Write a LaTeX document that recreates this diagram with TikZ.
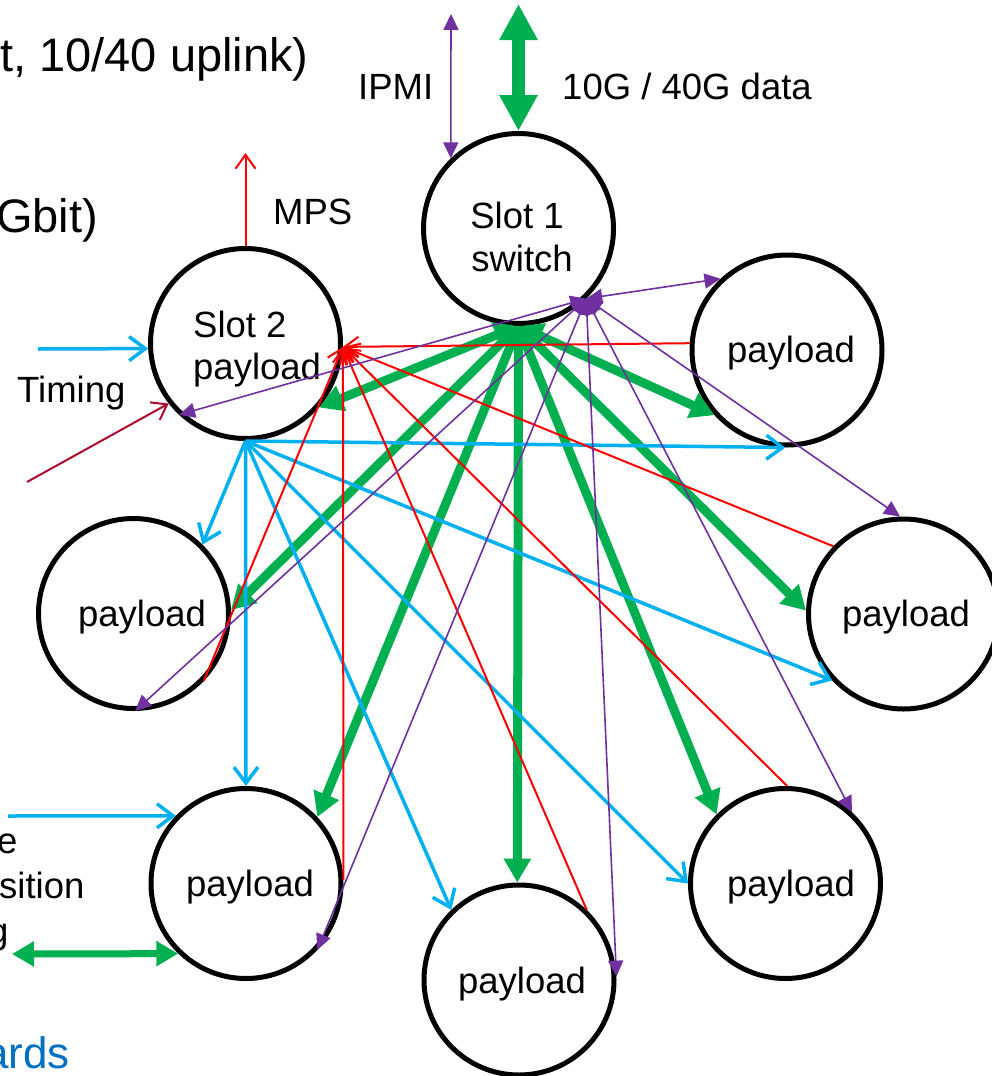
\documentclass[tikz,border=0pt]{standalone}
\usepackage{fontspec}
\setmainfont{Liberation Sans}
\usetikzlibrary{arrows.meta}
\definecolor{datagreen}{RGB}{0,176,80}
\definecolor{timeblue}{RGB}{0,176,240}
\definecolor{mpsred}{RGB}{255,0,0}
\definecolor{ipmipurple}{RGB}{112,48,160}
\definecolor{clkred}{RGB}{175,10,45}
\definecolor{headblue}{RGB}{0,112,192}
\begin{document}
\begin{tikzpicture}[x=1pt,y=-1pt,
  ring/.style={circle, draw=black, line width=5pt, minimum size=190pt, inner sep=0pt},
  lbl/.style={inner sep=0pt, font=\fontsize{36.5}{44}\selectfont},
  hdr/.style={inner sep=0pt, font=\fontsize{47}{56}\selectfont},
  datalink/.style={draw=datagreen, line width=9pt,
    arrows={Triangle[length=24pt,width=26pt]-Triangle[length=24pt,width=26pt]}},
  timelink/.style={draw=timeblue, line width=3.5pt,
    arrows={-Straight Barb[length=16pt,width=24pt]}},
  mpslink/.style={draw=mpsred, line width=2pt,
    arrows={-Straight Barb[length=14pt,width=20pt]}},
  ipmilink/.style={draw=ipmipurple, line width=1.6pt,
    arrows={Triangle[length=16pt,width=15pt]-Triangle[length=16pt,width=15pt]}},
  clklink/.style={draw=clkred, line width=2pt,
    arrows={-Straight Barb[length=14pt,width=20pt]}}
]
\useasboundingbox (0,0) rectangle (992,1076);

% slots
\node[ring] (sw)  at (518.5,228.5) {};
\node[ring] (s2)  at (245.5,343.5) {};
\node[ring] (pRT) at (787,350) {};
\node[ring] (pL)  at (133.5,613.5) {};
\node[ring] (pR)  at (903.5,614) {};
\node[ring] (pBL) at (246,883.5) {};
\node[ring] (pBM) at (519,980) {};
\node[ring] (pBR) at (785.5,883.5) {};

% slot labels
\node[lbl, anchor=base] (swA) at (517,228) {Slot 1};
\node[lbl, anchor=base] (swB) at (522,271) {switch};
\node[lbl, anchor=base west] (s2A) at (193,337) {Slot 2};
\node[lbl, anchor=base west] (s2B) at (193,379) {payload};
\node[lbl, anchor=base] (tRT) at (791,362) {payload};
\node[lbl, anchor=base] (tL)  at (142,626) {payload};
\node[lbl, anchor=base] (tR)  at (906,626) {payload};
\node[lbl, anchor=base] (tBL) at (250,896) {payload};
\node[lbl, anchor=base] (tBM) at (522,993) {payload};
\node[lbl, anchor=base] (tBR) at (791,896) {payload};

% outside texts
\node[hdr, anchor=base west] (h1) at (0,71) {t, 10/40 uplink)};
\node[hdr, anchor=base west] (h2) at (-4,232) {Gbit)};
\node[lbl, anchor=base west] (ipmiT) at (358,99) {IPMI};
\node[lbl, anchor=base west] (dataT) at (562,99) {10G / 40G data};
\node[lbl, anchor=base west] (mpsT) at (273,224) {MPS};
\node[lbl, anchor=base west] (timT) at (17,402) {Timing};
\node[lbl, anchor=base west] (b1) at (-3,853) {e};
\node[lbl, anchor=base west] (b2) at (-1,898) {sition};
\node[lbl, anchor=base west] (b3) at (-12,943) {g};
\node[inner sep=0pt, font=\fontsize{44}{52}\selectfont, text=headblue, anchor=base east] (h3) at (70,1068) {ards};

% free ends
\coordinate (dataTop) at (518.5,4);
\coordinate (ipmiTop) at (451,14);
\coordinate (mpsTop) at (245.5,153);
\coordinate (timIn) at (38,349);
\coordinate (clkIn) at (27,482);
\coordinate (timIn2) at (8,816);
\coordinate (dataIn2) at (12,954);

% 10G / 40G data fabric from the switch
\draw[datalink] (sw.south) -- (s2.-41);
\draw[datalink] (sw.south) -- (pL.2);
\draw[datalink] (sw.south) -- (pBL.43);
\draw[datalink] (sw.south) -- (pBM.91);
\draw[datalink] (sw.south) -- (pBR.135);
\draw[datalink] (sw.south) -- (pR.178);
\draw[datalink] (sw.south) -- (pRT.-138);

% timing fan-out from slot 2
\draw[timelink] (s2.south) -- (pRT.-91);
\draw[timelink] (s2.south) -- (pL.45);
\draw[timelink] (s2.south) -- (pBL.north);
\draw[timelink] (s2.south) -- (pBM.134);
\draw[timelink] (s2.south) -- (pBR.180);
\draw[timelink] (s2.south) -- (pR.-137);

% MPS into slot 2
\draw[mpslink] (pRT.176) -- (s2.-2);
\draw[mpslink] (pL.-44) -- (s2.-2);
\draw[mpslink] (pBL.2) -- (s2.-2);
\draw[mpslink] (pBM.46) -- (s2.-2);
\draw[mpslink] (pBR.89) -- (s2.-2);
\draw[mpslink] (pR.136) -- (s2.-2);

% IPMI from the switch
\draw[ipmilink] (sw.-46) -- (pRT.133);
\draw[ipmilink] (sw.-46) -- (s2.-133);
\draw[ipmilink] (sw.-46) -- (pL.-89);
\draw[ipmilink] (sw.-46) -- (pBL.-43);
\draw[ipmilink] (sw.-46) -- (pBM.2);
\draw[ipmilink] (sw.-46) -- (pBR.47);
\draw[ipmilink] (sw.-46) -- (pR.92);

% external links
\draw[draw=datagreen, line width=13pt,
  arrows={Triangle[length=36pt,width=36pt]-Triangle[length=36pt,width=36pt]}] (dataTop) -- (sw.north);
\draw[ipmilink] (ipmiTop) -- (sw.134);
\draw[mpslink] (s2.north) -- (mpsTop);
\draw[timelink] (timIn) -- (s2.183);
\draw[clklink] (clkIn) -- (s2.218);
\draw[timelink] (timIn2) -- (pBL.136);
\draw[draw=datagreen, line width=7pt,
  arrows={Triangle[length=22pt,width=24pt]-Triangle[length=22pt,width=24pt]}] (dataIn2) -- (pBL.-134);
\end{tikzpicture}
\end{document}
